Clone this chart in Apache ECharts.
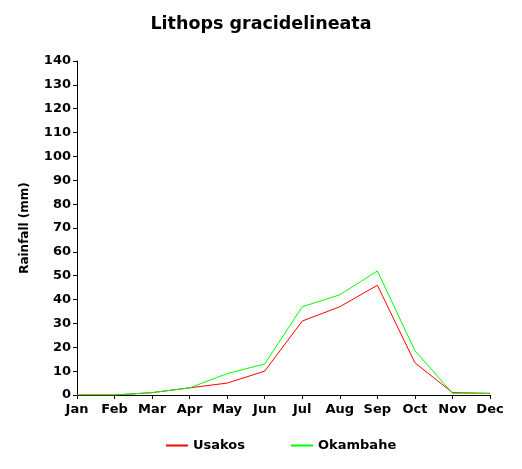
<!DOCTYPE html>
<html>
<head>
<meta charset="utf-8">
<script src="https://cdn.jsdelivr.net/npm/echarts@6/dist/echarts.min.js"></script>
<style>
  html, body { margin: 0; padding: 0; background: #fff; }
  #chart { width: 522px; height: 469px; }
</style>
</head>
<body>
<div id="chart"></div>
<script>
const months = ['Jan', 'Feb', 'Mar', 'Apr', 'May', 'Jun', 'Jul', 'Aug', 'Sep', 'Oct', 'Nov', 'Dec']
const usakos = [0, 0, 1, 3, 5, 10, 31, 37, 46, 13.5, 1, 0.7]
const okambahe = [0, 0, 1, 3, 9, 13, 37, 42, 52, 18.6, 0.7, 0.7]

const font = 'DejaVu Sans'
const chart = echarts.init(document.getElementById('chart'))

chart.setOption({
  animation: false,
  backgroundColor: '#fff',
  title: {
    text: 'Lithops gracidelineata',
    left: 'center',
    top: 10,
    textStyle: { color: '#000', fontSize: 17.5, fontWeight: 'bold', fontFamily: font }
  },
  legend: {
    bottom: 12,
    left: 161,
    itemGap: 46,
    itemWidth: 22,
    itemHeight: 2,
    icon: 'rect',
    textStyle: { color: '#000', fontSize: 13, fontWeight: 'bold', fontFamily: font },
    data: [
      { name: 'Usakos', itemStyle: { color: '#ff0000' } },
      { name: 'Okambahe', itemStyle: { color: '#00ff00' } }
    ]
  },
  grid: { left: 77, right: 32, top: 61, bottom: 74 },
  xAxis: {
    type: 'category',
    boundaryGap: false,
    data: months,
    axisLine: { lineStyle: { color: '#000', width: 1 } },
    axisTick: { show: true, length: 4, interval: 0, lineStyle: { color: '#000' } },
    axisLabel: { color: '#000', fontSize: 13, fontWeight: 'bold', fontFamily: font, margin: 8, interval: 0 },
    splitLine: { show: false }
  },
  yAxis: {
    type: 'value',
    min: 0,
    max: 140,
    interval: 10,
    name: 'Rainfall (mm)',
    nameLocation: 'middle',
    nameGap: 46,
    nameRotate: 90,
    nameTextStyle: { color: '#000', fontSize: 12, fontWeight: 'bold', fontFamily: font },
    axisLine: { show: true, lineStyle: { color: '#000', width: 1 } },
    axisTick: { show: true, length: 4, lineStyle: { color: '#000' } },
    axisLabel: { color: '#000', fontSize: 13, fontWeight: 'bold', fontFamily: font, margin: 6 },
    splitLine: { show: false }
  },
  series: [
    {
      name: 'Usakos',
      type: 'line',
      data: usakos,
      showSymbol: false,
      lineStyle: { color: '#ff0000', width: 1 },
      itemStyle: { color: '#ff0000' }
    },
    {
      name: 'Okambahe',
      type: 'line',
      data: okambahe,
      showSymbol: false,
      lineStyle: { color: '#00ff00', width: 1 },
      itemStyle: { color: '#00ff00' }
    }
  ]
})
</script>
</body>
</html>
